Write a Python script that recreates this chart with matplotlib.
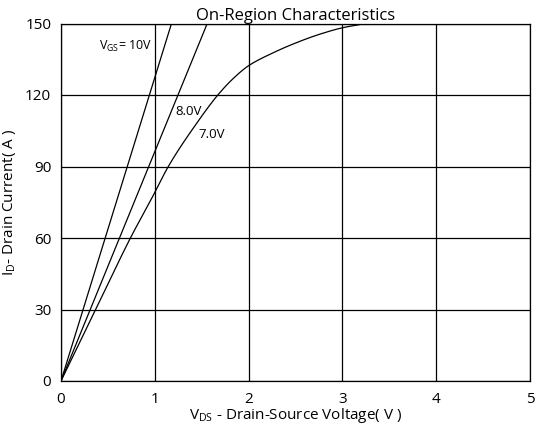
import matplotlib
matplotlib.use("Agg")
import matplotlib.pyplot as plt
import numpy as np

plt.rcParams['font.family'] = ['Open Sans', 'DejaVu Sans']
plt.rcParams['mathtext.default'] = 'regular'

# Data
v10 = [0.0, 1.178]
i10 = [0.0, 150.0]
v8 = [0.0, 1.559]
i8 = [0.0, 150.0]
v7 = [0.0, 0.37, 0.74, 0.98, 1.144, 1.426, 1.672, 1.83, 2.0, 2.25, 2.5, 2.75, 3.0, 3.25]
i7 = [0.0, 30.0, 60.0, 77.6, 90.0, 107.0, 120.0, 126.7, 132.3, 137.5, 141.8, 145.4, 148.2, 150.0]

xticks = [0, 1, 2, 3, 4, 5]
yticks = [0, 30, 60, 90, 120, 150]


def pchip(x, y, xn):
    x = np.asarray(x, float); y = np.asarray(y, float)
    h = np.diff(x); d = np.diff(y) / h
    m = np.zeros_like(y)
    for k in range(1, len(x) - 1):
        if d[k-1] * d[k] > 0:
            w1 = 2*h[k] + h[k-1]; w2 = h[k] + 2*h[k-1]
            m[k] = (w1 + w2) / (w1 / d[k-1] + w2 / d[k])
    m[0] = d[0]; m[-1] = d[-1]
    idx = np.clip(np.searchsorted(x, xn) - 1, 0, len(x) - 2)
    t = (xn - x[idx]) / h[idx]
    h00 = 2*t**3 - 3*t**2 + 1; h10 = t**3 - 2*t**2 + t
    h01 = -2*t**3 + 3*t**2; h11 = t**3 - t**2
    return h00*y[idx] + h10*h[idx]*m[idx] + h01*y[idx+1] + h11*h[idx]*m[idx+1]


fig = plt.figure(figsize=(5.37, 4.29), dpi=100)
ax = fig.add_axes([61/537, 48/429, 469/537, 357.5/429])

ax.plot(v10, i10, color='black', lw=0.9)
ax.plot(v8, i8, color='black', lw=0.9)
vv = np.linspace(0, v7[-1], 400)
ax.plot(vv, pchip(v7, i7, vv), color='black', lw=0.9)

ax.set_xlim(0, 5)
ax.set_ylim(0, 150)
ax.set_xticks(xticks)
ax.set_yticks(yticks)
ax.tick_params(axis='x', length=0, labelsize=11, pad=8)
ax.tick_params(axis='y', length=0, labelsize=11, pad=7)
ax.grid(True, color='black', lw=0.9)
for s in ax.spines.values():
    s.set_linewidth(0.9)

ax.text(0.41, 140.5, 'V$_{GS}$= 10V', fontsize=9, va='center', ha='left')
ax.text(1.216, 113, '8.0V', fontsize=9.5, va='center', ha='left')
ax.text(1.47, 103.5, '7.0V', fontsize=9.5, va='center', ha='left')

ax.set_title('On-Region Characteristics', fontsize=12, pad=1)
ax.set_xlabel('V$_{DS}$ - Drain-Source Voltage( V )', fontsize=11, labelpad=-1)
ax.set_ylabel('I$_{D}$- Drain Current( A )', fontsize=11, labelpad=5)

fig.savefig('out.png', dpi=100)
